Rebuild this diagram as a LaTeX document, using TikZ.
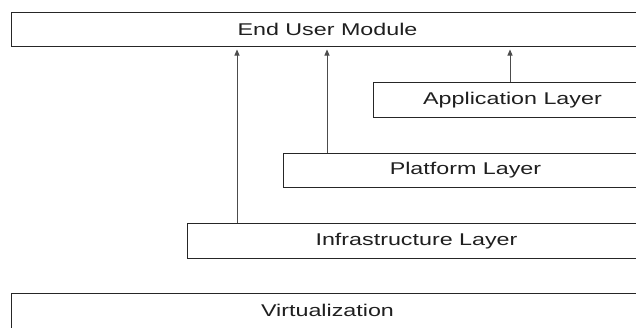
\documentclass[tikz,border=0pt]{standalone}
\usepackage{fontspec}
\setmainfont{Liberation Sans}[FakeStretch=1.37]
\usetikzlibrary{arrows.meta}
\begin{document}
\begin{tikzpicture}[x=1pt,y=-1pt,
  layerbox/.style={draw=black!85, line width=1pt, fill=white, anchor=north west,
    minimum height=34.5pt, inner sep=0pt, text=black!88,
    font=\fontsize{17}{20}\selectfont},
  arr/.style={draw=black!70, line width=0.9pt, shorten >=2.5pt,
    -{Triangle[length=6pt,width=5pt]}}]
\useasboundingbox (0,0) rectangle (636,327);
\node[layerbox, minimum width=632pt] (eu) at (11,11.5) {End User Module};
\node[layerbox, minimum width=278pt] (app) at (373,82) {Application Layer};
\node[layerbox, minimum width=364pt] (plat) at (283,152.5) {Platform Layer};
\node[layerbox, minimum width=458pt] (infra) at (187,223) {Infrastructure Layer};
\node[layerbox, minimum width=632pt] (virt) at (11,293) {Virtualization};
\draw[arr] ([xshift=50pt]infra.north west) -- ([xshift=50pt]infra.north west |- eu.south);
\draw[arr] ([xshift=44pt]plat.north west) -- ([xshift=44pt]plat.north west |- eu.south);
\draw[arr] ([xshift=137pt]app.north west) -- ([xshift=137pt]app.north west |- eu.south);
\end{tikzpicture}
\end{document}
